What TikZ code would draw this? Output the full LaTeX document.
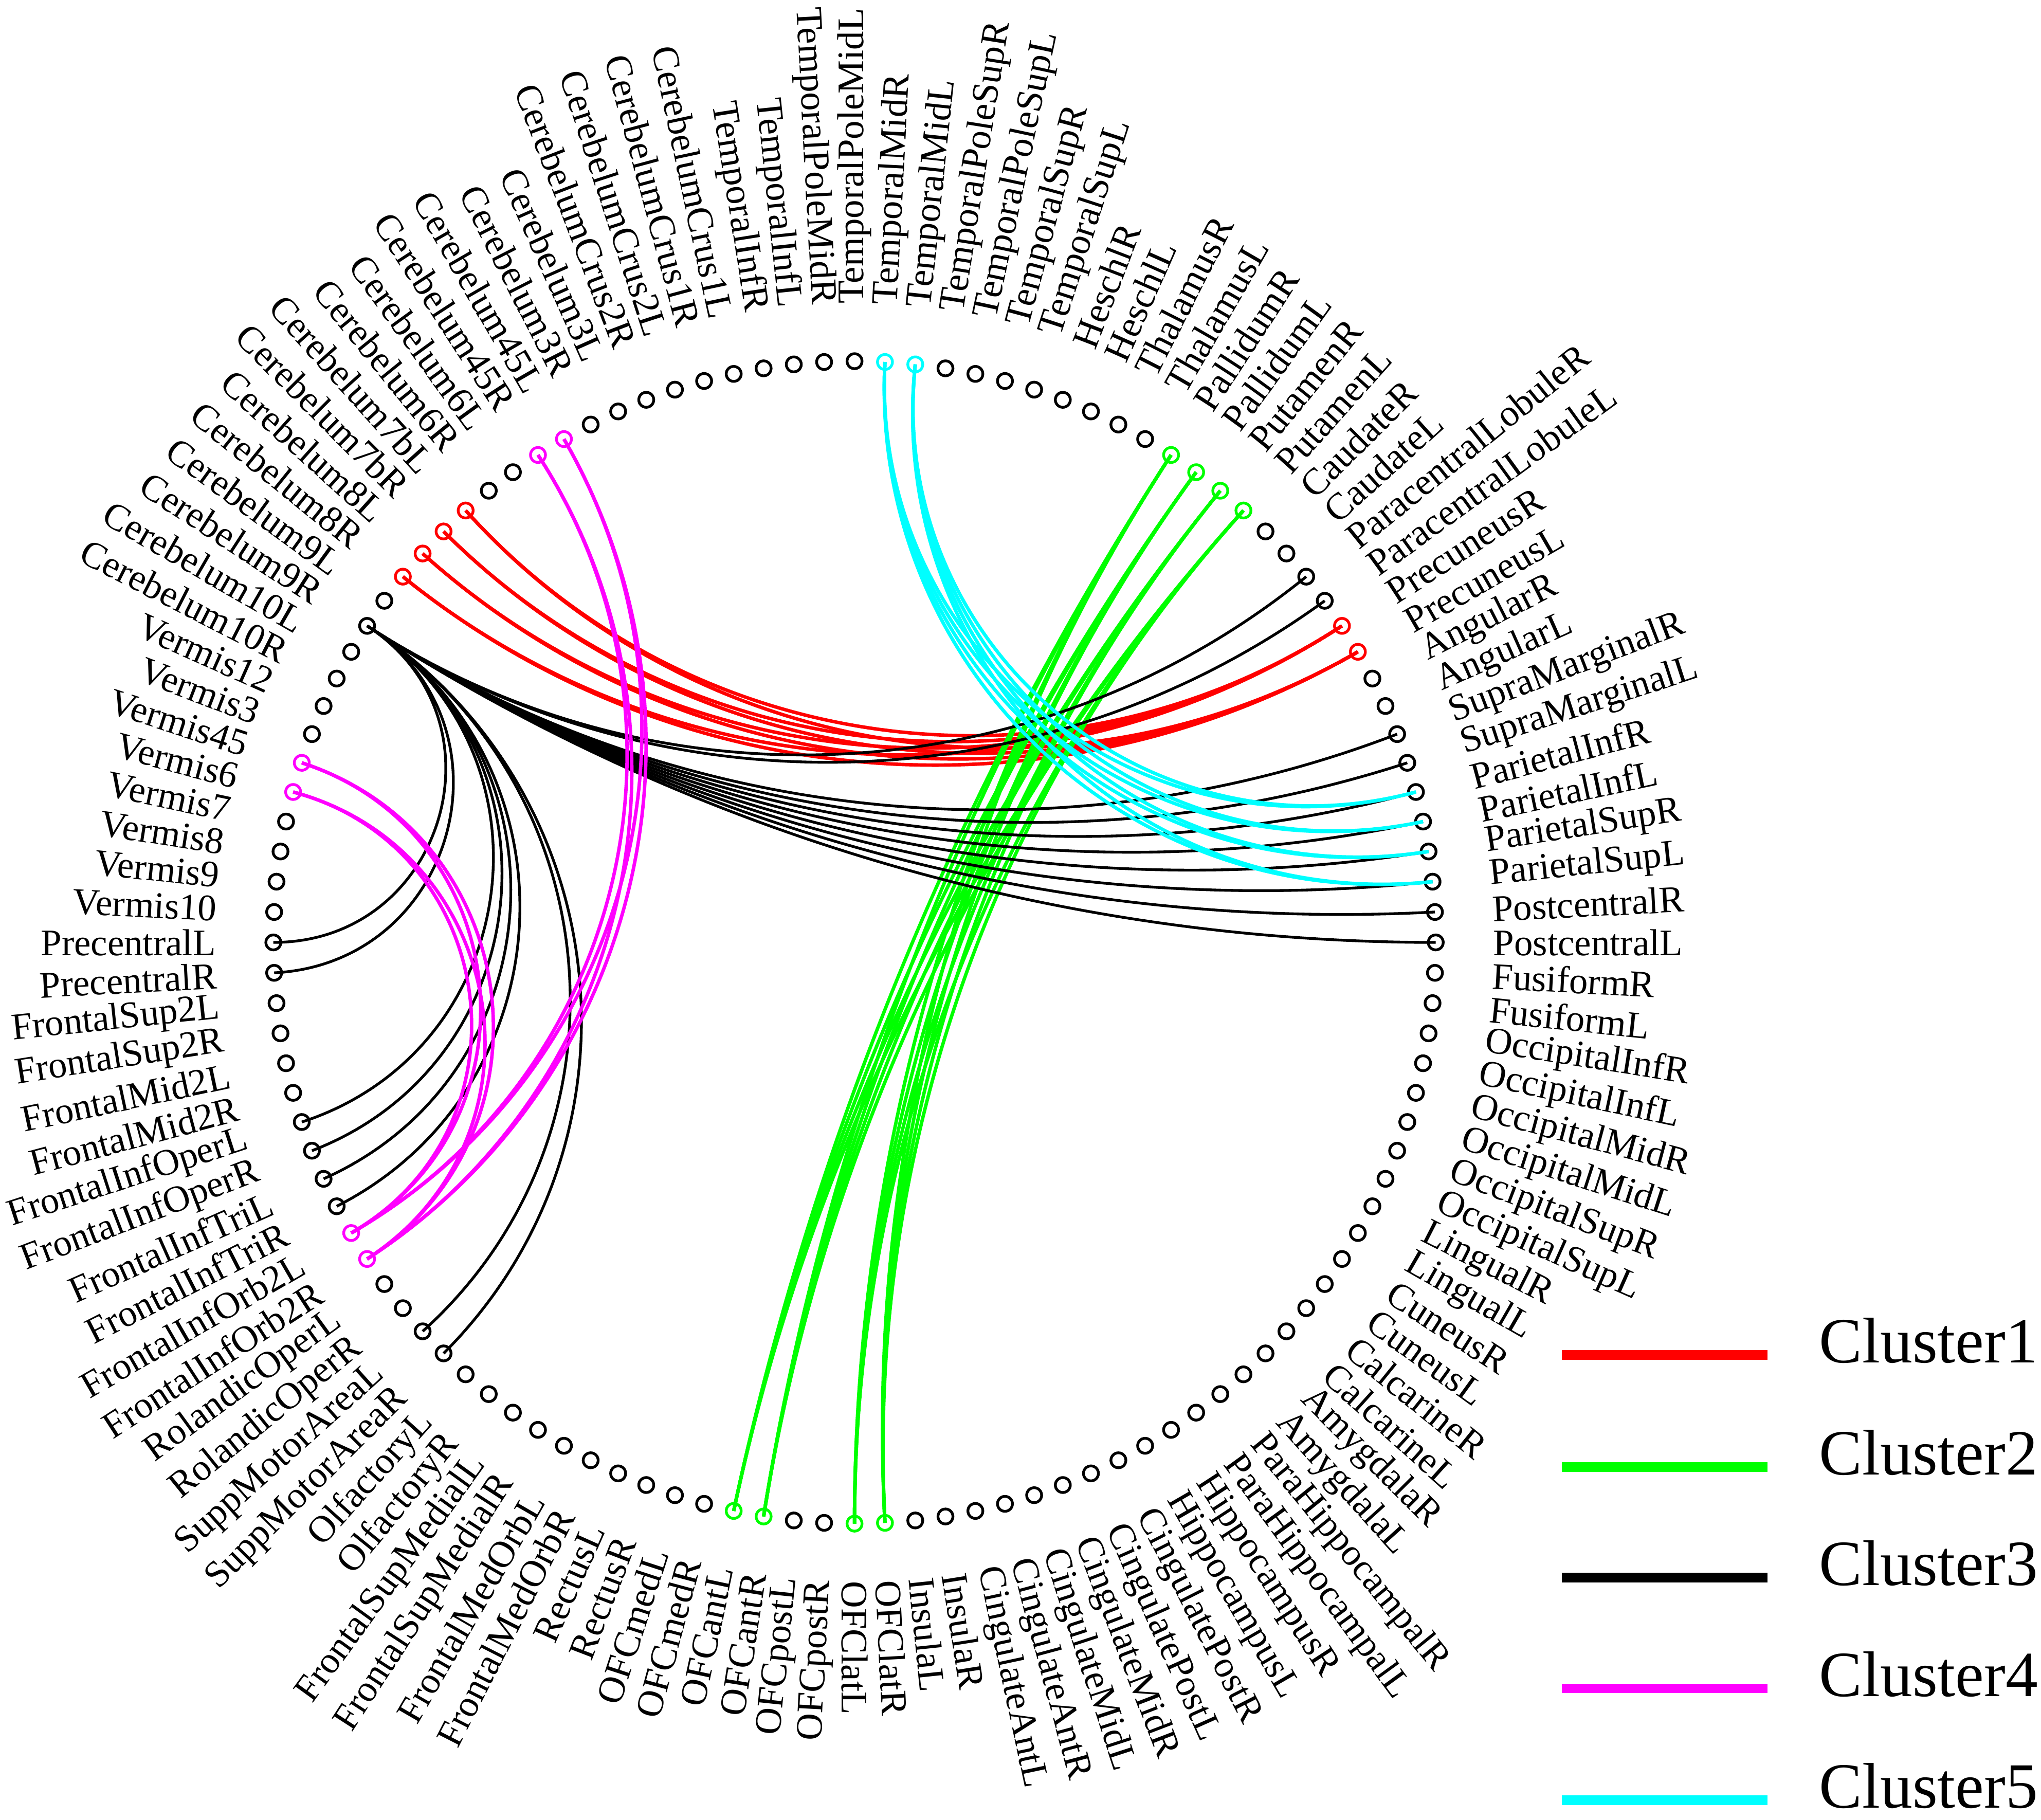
\documentclass[tikz,border=0pt]{standalone}
\usepackage{fontspec}
\setmainfont{Liberation Serif}
\usetikzlibrary{calc}

\definecolor{cl1}{RGB}{255,0,0}
\definecolor{cl2}{RGB}{0,255,0}
\definecolor{cl3}{RGB}{0,0,0}
\definecolor{cl4}{RGB}{255,0,255}
\definecolor{cl5}{RGB}{0,255,255}

\tikzset{
  roi/.style={circle, draw=black, line width=0.6pt, inner sep=0pt, minimum size=1.15mm},
  roilab/.style={inner sep=0pt, font=\fontsize{8.2}{9.8}\selectfont},
  conn/.style={line width=0.75pt},
  legline/.style={line width=2.1pt},
  legtext/.style={inner sep=0pt, anchor=base west, font=\fontsize{14.1}{17}\selectfont}
}
\newcommand{\Rc}{4.465}
\newcommand{\Rl}{4.90}

% arc orthogonal au cercle entre deux ROI (approche par une Bezier)
\newcommand{\relie}[3]{%
  \pgfmathsetmacro{\angA}{90-3*(#1-1)}%
  \pgfmathsetmacro{\angB}{90-3*(#2-1)}%
  \pgfmathsetmacro{\dd}{abs(mod(\angB-\angA+540,360)-180)}%
  \pgfmathsetmacro{\rk}{\Rc*(1-4/3*tan((180-\dd)/4)*tan(\dd/2))}%
  \draw[conn,#3] (n#1.center) .. controls (\angA:\rk) and (\angB:\rk) .. (n#2.center);%
}

\begin{document}
\begin{tikzpicture}
\useasboundingbox (-6.565,-6.74) rectangle (9.115,7.24);

%couleur des ROI
\foreach \k in {20,21,104,105,106,107}{\expandafter\xdef\csname roic\k\endcsname{cl1}}
\foreach \k in {12,13,14,15,60,61,64,65}{\expandafter\xdef\csname roic\k\endcsname{cl2}}
\foreach \k in {80,81,96,97,110,111}{\expandafter\xdef\csname roic\k\endcsname{cl4}}
\foreach \k in {2,3}{\expandafter\xdef\csname roic\k\endcsname{cl5}}

%ROI : 120 regions, pas de 3 degres
\foreach \nom [count=\i] in {TemporalPoleMidL,TemporalMidR,TemporalMidL,TemporalPoleSupR,
  TemporalPoleSupL,TemporalSupR,TemporalSupL,HeschlR,HeschlL,ThalamusR,ThalamusL,
  PallidumR,PallidumL,PutamenR,PutamenL,CaudateR,CaudateL,ParacentralLobuleR,
  ParacentralLobuleL,PrecuneusR,PrecuneusL,AngularR,AngularL,SupraMarginalR,
  SupraMarginalL,ParietalInfR,ParietalInfL,ParietalSupR,ParietalSupL,PostcentralR,
  PostcentralL,FusiformR,FusiformL,OccipitalInfR,OccipitalInfL,OccipitalMidR,
  OccipitalMidL,OccipitalSupR,OccipitalSupL,LingualR,LingualL,CuneusR,CuneusL,
  CalcarineR,CalcarineL,AmygdalaR,AmygdalaL,ParaHippocampalR,ParaHippocampalL,
  HippocampusR,HippocampusL,CingulatePostR,CingulatePostL,CingulateMidR,CingulateMidL,
  CingulateAntR,CingulateAntL,InsulaR,InsulaL,OFClatR,OFClatL,OFCpostR,OFCpostL,
  OFCantR,OFCantL,OFCmedR,OFCmedL,RectusR,RectusL,FrontalMedOrbR,FrontalMedOrbL,
  FrontalSupMedialR,FrontalSupMedialL,OlfactoryR,OlfactoryL,SuppMotorAreaR,
  SuppMotorAreaL,RolandicOperR,RolandicOperL,FrontalInfOrb2R,FrontalInfOrb2L,
  FrontalInfTriR,FrontalInfTriL,FrontalInfOperR,FrontalInfOperL,FrontalMid2R,
  FrontalMid2L,FrontalSup2R,FrontalSup2L,PrecentralR,PrecentralL,Vermis10,Vermis9,
  Vermis8,Vermis7,Vermis6,Vermis45,Vermis3,Vermis12,Cerebelum10R,Cerebelum10L,
  Cerebelum9R,Cerebelum9L,Cerebelum8R,Cerebelum8L,Cerebelum7bR,Cerebelum7bL,
  Cerebelum6R,Cerebelum6L,Cerebelum45R,Cerebelum45L,Cerebelum3R,Cerebelum3L,
  CerebelumCrus2R,CerebelumCrus2L,CerebelumCrus1R,CerebelumCrus1L,TemporalInfR,
  TemporalInfL,TemporalPoleMidR}
{
  \pgfmathsetmacro{\ang}{90-3*(\i-1)}
  \ifcsname roic\i\endcsname \edef\coul{\csname roic\i\endcsname}\else\def\coul{black}\fi
  \node[roi, draw=\coul] (n\i) at (\ang:\Rc) {};
  \ifnum\i<62
    \node[roilab, anchor=west, rotate=\ang] (t\i) at (\ang:\Rl) {\nom};
  \else
    \pgfmathsetmacro{\rot}{\ang+180}
    \node[roilab, anchor=east, rotate=\rot] (t\i) at (\ang:\Rl) {\nom};
  \fi
}

% Cluster1
\foreach \a in {104,...,107}{\foreach \b in {20,21}{\relie{\a}{\b}{cl1}}}
% Cluster2
\foreach \a in {12,...,15}{\foreach \b in {60,61,64,65}{\relie{\a}{\b}{cl2}}}
% Cluster3 : tout part de Cerebelum9R
\foreach \b in {18,19,24,25,26,27,28,29,30,31,76,77,82,83,84,85,90,91}{\relie{102}{\b}{cl3,line width=0.6pt}}
% Cluster4
\foreach \a in {96,97,110,111}{\foreach \b in {80,81}{\relie{\a}{\b}{cl4}}}
% Cluster5
\foreach \a in {2,3}{\foreach \b in {26,...,29}{\relie{\a}{\b}{cl5}}}

%legende
\foreach \k/\y in {1/-3.17,2/-4.03,3/-4.88,4/-5.73,5/-6.59}
{
  \coordinate (lg\k a) at (5.435,\y);
  \coordinate (lg\k b) at (7.015,\y);
  \draw[legline, cl\k] (lg\k a) -- (lg\k b);
  \node[legtext] (lt\k) at ($(lg\k b)+(0.39,-0.06)$) {Cluster\k};
}

\end{tikzpicture}
\end{document}
